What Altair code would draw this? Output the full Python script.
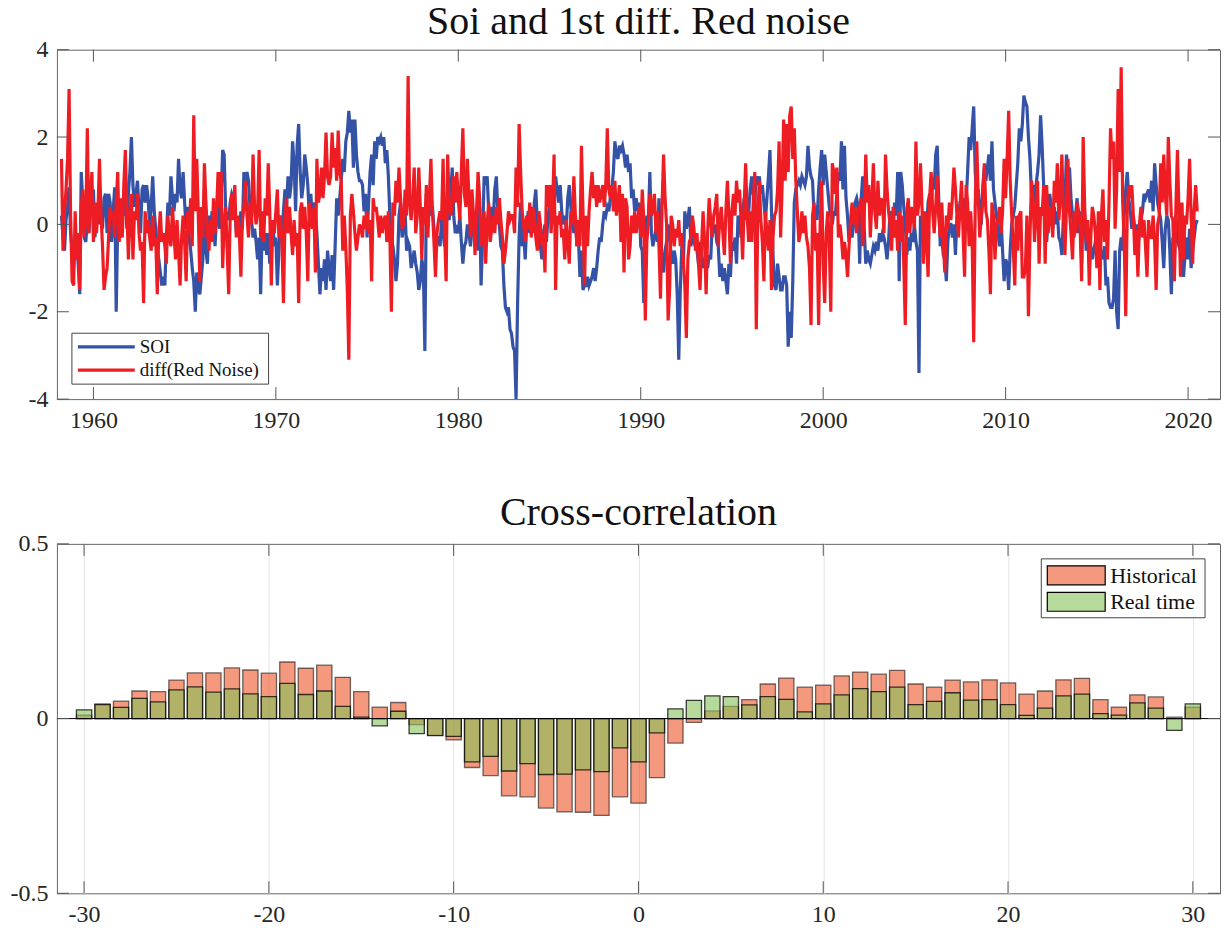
import altair as alt
import pandas as pd

FONT = "Liberation Serif"
START_YEAR = 1958
START_MONTH = 4  # first monthly sample: April 1958

# ---------------- SOI (monthly) ----------------
soi = [
    0.2, -0.3, -0.6, 0.1, 0.4, 0.85, -0.2, -0.6, -1.0,                 # 1958 Apr-Dec
    -0.2, -0.5, -0.9, -1.6, 1.2, 0.5, -0.3, -0.4, 0.1, -0.2, 0.3, 0.4,  # 1959
    0.8, -0.3, 0.2, 0.4, 0.0, 0.3, -0.1, 0.6, 0.7, -0.2, 0.7, 0.5,      # 1960
    -0.4, 0.3, 0.85, -2.0, 0.1, 0.5, -0.3, 0.4, 0.2, 0.6, -0.1, 0.7,    # 1961
    1.2, 2.0, 0.9, 0.4, 0.7, 1.0, 0.3, -0.2, 0.8, 0.9, 0.5, 0.9,        # 1962
    0.6, -0.1, 0.4, 1.1, 0.3, -0.1, -0.6, -0.8, -1.1, -1.4, -1.2, -1.4, # 1963
    -0.3, 0.5, 0.2, 1.1, 0.6, 0.3, 0.7, 0.5, 1.5, 0.8, 0.6, 1.2,        # 1964
    0.5, -0.1, 0.4, -0.3, -0.6, -1.0, -1.3, -2.0, -1.1, -1.5, -1.6, -1.2,  # 1965
    -0.8, 0.8, -0.6, -0.9, 0.2, -0.4, 0.3, 0.1, -0.5, 0.2, 0.4, -0.1,   # 1966
    0.6, 1.7, 1.6, 0.3, 0.2, 0.1, 0.5, 0.7, 0.6, 0.4, -0.2, 0.1,        # 1967
    -0.2, 0.3, -0.1, 1.2, 0.9, 1.2, 1.0, 0.4, 0.1, -0.3, -0.1, -0.4,    # 1968
    -0.8, -0.3, -1.6, -0.1, -0.6, -0.2, -0.7, -0.2, -0.9, -0.4, 0.1, -0.5,  # 1969
    -0.3, -1.4, -0.6, 0.2, -0.4, 0.3, 0.8, 0.4, 1.1, 0.6, 0.9, 1.9,     # 1970
    1.4, 0.3, 1.8, 2.3, 1.2, 0.6, 0.9, 1.6, 1.3, 0.9, 0.2, 0.7,         # 1971
    0.1, 0.5, 0.3, -0.2, -0.9, -1.6, -1.0, -1.3, -0.8, -1.5, -0.6, -1.0,  # 1972
    -1.3, -0.7, -1.5, -0.5, 0.6, 0.2, 0.6, 1.0, 1.5, 1.2, 1.9, 2.1,     # 1973
    2.6, 2.1, 2.4, 1.3, 2.4, 1.6, 1.2, 1.0, 1.0, 0.9, 0.3, 0.7,         # 1974
    -0.3, 0.5, 1.2, 1.6, 0.9, 1.9, 1.5, 2.0, 1.9, 2.0, 1.8, 2.0,        # 1975
    1.4, 1.7, 1.1, 0.2, -0.3, -0.5, -0.8, -1.3, -0.9, 0.2, 0.5, -0.3,   # 1976
    -0.1, 0.3, -0.6, -0.4, -0.5, -1.0, -0.8, -0.6, -0.9, -1.1, -1.5, -1.3,  # 1977
    -0.8, -1.0, -2.9, 0.7, 0.3, 0.5, 0.2, 0.4, -0.1, -0.4, -0.3, -0.3,  # 1978
    -0.5, 0.1, -0.2, -0.5, 0.0, 0.3, 0.1, 0.7, 1.3, 0.2, -0.2, -0.1,    # 1979
    -0.2, 0.2, -0.4, -0.9, -0.5, -0.4, 0.0, -0.2, -0.5, -0.1, 0.1, -0.3,  # 1980
    0.2, -0.6, 0.4, -1.4, -0.3, 1.1, 0.9, 1.1, 0.3, -0.2, 0.4, 0.1,     # 1981
    0.8, 1.1, 0.3, 0.0, -0.5, -0.6, -1.4, -1.9, -2.0, -1.9, -2.4, -2.5, # 1982
    -2.8, -2.9, -4.0, -1.8, -0.3, 0.5, -0.5, -0.2, -0.8, 0.0, 0.3, -0.2,  # 1983
    0.3, -0.2, 0.5, 0.8, 0.0, -0.3, -0.5, -0.8, -0.2, 0.0, -0.4, 0.2,   # 1984
    0.4, 0.9, 0.6, 0.5, 1.1, 0.8, 0.5, 0.9, 0.3, 0.0, 0.2, -0.1,        # 1985
    0.6, 0.9, 0.4, 0.1, -0.2, 0.2, -0.5, -0.3, -1.2, -0.6, -1.5, -1.4,  # 1986
    -1.4, -1.2, -1.4, -1.3, -1.2, -1.0, -1.3, -1.0, -0.6, -0.3, -0.4, 0.0,  # 1987
    0.3, 0.2, 0.4, 0.3, 0.6, 0.8, 1.2, 1.9, 1.6, 1.5, 1.8, 1.7,         # 1988
    1.8, 1.6, 1.3, 1.6, 1.2, 1.4, 0.6, 0.8, 0.3, 0.6, 0.3, 0.5,         # 1989
    -0.5, -0.6, -1.8, -0.2, 0.2, 0.1, 1.2, -0.2, -0.5, -0.3, -0.1, -0.4,  # 1990
    0.6, -0.2, -0.8, -1.1, -0.6, -0.4, 0.0, -0.3, -0.7, -0.9, -0.6, -0.8,  # 1991
    -1.6, -3.1, -1.5, -0.5, -1.0, 0.3, -0.1, 0.1, 0.4, -0.5, -0.2, -0.4,  # 1992
    -0.5, -0.6, -0.9, -0.4, -0.8, -1.0, -0.8, -0.6, -1.0, -0.7, -0.8, 0.0,  # 1993
    -0.2, 0.0, -0.4, -0.5, -1.2, -0.9, -1.3, -1.0, -1.3, -1.6, -0.9, -1.2,  # 1994
    -0.4, -0.6, -0.3, -0.9, 0.2, 0.1, -0.3, 0.2, 0.6, 0.1, 0.4, 0.3,    # 1995
    0.8, 1.1, 0.7, 0.5, 1.1, 0.9, 1.1, 0.7, 0.9, 0.5, 0.1, 0.6,         # 1996
    1.1, 1.7, 0.3, -0.7, -1.4, -1.5, -0.9, -1.2, -1.5, -1.5, -1.2, -1.2,  # 1997
    -1.4, -2.8, -2.0, -2.6, -1.3, 0.5, 0.8, 0.9, 1.0, 0.9, 1.1, 1.0,    # 1998
    0.9, 1.1, 1.8, 1.3, 1.1, 1.0, 0.2, 0.3, 0.1, 0.8, 1.3, 1.7,         # 1999
    0.9, 1.6, 1.2, 0.8, 0.4, 0.2, 0.0, 0.3, 0.2, 0.7, 1.2, 1.0,         # 2000
    1.9, 0.8, 1.8, 0.6, 0.2, -0.4, 0.0, -0.3, 0.0, 0.5, 0.6, 0.4,       # 2001
    -0.9, 0.6, 1.1, -0.1, -0.9, -0.6, -0.8, -0.9, -0.7, -0.5, -0.6, -0.4,  # 2002
    -0.6, -0.2, -0.4, -0.2, -0.3, -0.5, -0.8, -0.4, 0.3, 0.2, -0.1, 0.5,  # 2003
    0.2, 1.2, -1.3, 1.2, 0.9, 0.4, 0.0, -0.7, -0.3, -0.6, -0.2, -0.4,   # 2004
    0.0, -0.4, -0.6, -3.4, 0.2, 0.0, -0.4, 0.1, -0.2, 0.5, 0.7, 0.4,    # 2005
    1.0, 0.8, 1.6, 1.8, 0.6, -0.5, -0.3, -0.7, -0.8, -1.3, -0.4, 0.0,   # 2006
    0.0, -0.3, 0.0, -0.7, 0.2, 0.1, 0.5, 0.5, 0.2, 0.6, 0.5, 1.2,       # 2007
    2.0, 1.7, 2.2, 2.7, 1.2, 0.7, 0.8, 0.3, 0.0, 0.9, 1.3, 1.0,         # 2008
    1.3, 1.6, 1.0, 1.9, 0.8, 0.5, 0.2, -0.2, -0.5, 0.1, -0.6, -1.3,     # 2009
    -0.8, -0.9, -1.5, -0.6, 0.0, 0.2, 0.4, 0.9, 1.4, 2.2, 1.9, 2.3,     # 2010
    2.95, 2.8, 2.7, 2.0, 1.5, 0.7, 0.9, 0.5, 0.9, 1.2, 1.6, 2.5,        # 2011
    1.8, 0.9, 0.2, -0.4, 0.1, 0.7, 0.4, -0.1, 0.4, 0.0, 0.3, -0.3,      # 2012
    -0.4, -0.7, 0.2, 0.5, 1.6, 1.2, 1.3, 0.6, 0.2, -0.3, 0.2, 0.6,      # 2013
    -0.2, 0.3, -0.9, 0.7, 0.2, -0.6, -0.3, -0.9, -0.5, -0.8, -0.6, -0.4,  # 2014
    -0.5, -0.2, -0.9, -0.6, -0.8, -0.5, -1.4, -1.2, -1.8, -1.9, -1.9, -1.7,  # 2015
    -0.6, -2.0, -2.4, -0.6, -0.3, -0.6, 0.2, 0.8, 1.2, 0.6, 0.3, -0.1,  # 2016
    0.2, -0.1, 0.0, -0.5, -0.2, 0.1, 0.3, 0.7, 0.6, 0.7, 0.8, 0.5,      # 2017
    1.0, 0.3, 1.4, 0.9, 0.5, 0.3, 0.1, -0.4, -1.0, -0.1, 0.2, 0.1,      # 2018
    -0.6, -1.6, -0.3, -0.8, 0.2, -0.3, -0.5, -0.6, -0.8, -1.2, -0.7, -0.3,  # 2019
    -0.8, -0.1, -1.0, -0.6, -0.3, 0.0, 0.1,                             # 2020 Jan-Jul
]

# ---------------- diff(Red Noise) (monthly) ----------------
red_noise_diff = [
    1.5, -0.6, 0.3, 0.8, 1.5, 3.1, 0.2, -1.3, -1.4,                     # 1958 Apr-Dec
    0.3, -0.8, -0.2, -1.5, 0.4, 0.8, -0.3, 0.1, 2.2, -0.2, 0.6, 1.2,    # 1959
    -0.4, 0.5, -0.2, 0.3, 1.5, 0.2, -0.5, -1.5, -1.2, -1.0, -0.3, 0.4,  # 1960
    0.1, 0.3, -0.3, 0.5, 1.2, -0.4, 0.6, -0.3, 0.9, 1.7, 0.4, -0.8,     # 1961
    0.2, 0.7, -0.8, 0.3, 0.1, 0.7, -0.2, -0.6, -0.4, -1.8, 0.3, -0.2,   # 1962
    0.1, -0.3, -0.6, 0.2, -0.5, -0.3, -1.6, -0.2, 0.3, -0.4, -0.2, -0.5,  # 1963
    -0.9, 0.2, -0.3, -0.5, 0.4, -0.2, -0.8, 0.1, -0.6, -1.4, -0.3, 0.2,  # 1964
    -0.4, -1.3, 0.3, -0.2, 0.6, -0.5, 2.5, 0.3, 1.5, 0.2, -1.3, 0.4,    # 1965
    -0.3, 1.4, 0.5, -0.2, -0.6, 0.1, -0.4, 0.6, -0.2, 0.3, 1.2, 0.4,    # 1966
    1.2, -1.0, 0.0, 0.4, -0.6, -1.6, 0.3, 0.7, 0.1, 0.9, -0.3, 0.2,     # 1967
    -0.2, -1.2, 0.1, 0.4, 1.0, 0.2, -0.3, 0.5, 0.0, 1.6, 0.4, 0.0,      # 1968
    0.3, 1.7, -0.3, 0.3, -0.4, 0.6, 0.2, 1.4, 0.3, -1.4, 0.1, -0.2,     # 1969
    0.3, 0.8, -0.3, 0.2, -0.4, -1.8, 0.1, 0.6, -0.2, 0.4, -0.2, -0.7,   # 1970
    0.1, -0.5, -0.2, -1.8, 0.3, 0.5, -0.1, 0.4, -0.2, -1.3, 0.5, 0.2,   # 1971
    -0.1, 0.4, -1.1, 1.5, 0.5, 0.7, 1.3, 0.6, 1.1, 2.1, 1.1, 0.9,       # 1972
    1.1, 2.1, 1.3, 1.75, 1.0, 2.15, 1.2, 1.0, -0.6, 0.2, -0.5, -1.5,    # 1973
    -3.1, 0.2, 0.7, 0.3, -0.2, -0.6, -0.3, 0.0, -0.1, -0.3, 0.2, -0.1,  # 1974
    0.3, -0.2, 0.1, -1.3, 0.6, 0.3, 0.4, 0.1, -0.3, 0.2, -0.2, 0.1,     # 1975
    0.2, -0.4, 0.3, -0.3, -2.0, 0.5, 0.2, 1.0, 0.5, 1.3, 0.6, -0.1,     # 1976
    0.0, 0.8, 0.2, 3.4, 0.5, 0.1, 0.6, 1.3, -0.2, 0.2, 1.3, 0.4,        # 1977
    -0.8, 0.4, 0.0, 0.9, -0.3, 0.6, 1.5, 0.3, -0.4, -1.2, -0.2, 0.1,    # 1978
    0.3, 0.1, 1.5, -0.2, -1.3, 1.6, 0.5, 0.2, 0.5, 1.1, 0.5, 1.2,       # 1979
    0.6, 0.1, 1.2, 2.2, 0.7, 0.4, 1.5, 0.6, -0.3, 0.8, 0.2, -0.7,       # 1980
    0.3, 1.2, 0.6, -0.5, -0.2, 0.3, -0.9, 0.0, 0.5, -0.4, -0.1, 0.2,    # 1981
    -0.2, 0.4, 0.0, 0.6, 0.1, -0.3, -0.9, -0.6, -0.2, 0.3, 0.1, 0.2,    # 1982
    0.2, -0.2, 1.3, 0.4, 2.3, 1.2, 0.3, 0.0, -0.4, 0.2, -0.1, 0.5,      # 1983
    -0.3, 0.4, 0.2, -0.3, -0.6, 0.3, 0.0, -0.5, -0.2, -1.1, 0.9, 0.4,   # 1984
    0.9, -0.2, 0.4, 1.6, -1.5, 0.2, 0.0, 0.3, -0.3, -0.1, -0.8, 0.1,    # 1985
    -0.4, -0.9, 0.3, 0.0, 1.1, 0.2, -0.5, 0.1, -0.5, 1.8, 0.3, -1.4,    # 1986
    0.2, -0.5, 0.3, 0.8, 1.2, 0.6, 0.9, 0.4, 0.9, 0.5, 0.7, 0.9,        # 1987
    0.4, 0.9, 2.2, 0.8, 0.6, 0.9, 0.3, 1.0, 0.2, 0.5, 0.9, -0.4,        # 1988
    0.7, -1.1, 0.6, 0.4, -0.8, -0.5, 0.2, -0.2, 0.3, -0.2, 0.1, 0.4,    # 1989
    -0.3, 0.8, 0.1, -2.2, -0.4, 0.0, 0.7, 0.2, 0.4, 0.7, -0.2, 0.3,     # 1990
    -0.5, -1.7, 0.4, 1.6, 0.6, 0.0, -2.2, -1.5, 0.2, 0.0, -0.5, -0.1,   # 1991
    -0.3, 0.1, -0.5, -0.2, -0.8, -1.4, -2.6, -0.8, -0.4, -0.3, 0.2, -0.1,  # 1992
    -0.6, -0.2, -0.9, -1.5, -0.5, 0.3, -0.4, -1.6, -0.2, 0.6, 0.1, -0.3,  # 1993
    0.2, 0.4, 0.7, -0.5, 0.1, 0.4, -0.2, -0.7, 0.3, 1.0, 0.2, -0.9,     # 1994
    0.3, 0.7, 0.2, 1.0, 0.5, 0.8, 0.1, -0.8, 0.4, 1.4, 0.2, -0.4,       # 1995
    0.3, -0.4, 0.5, 1.2, -2.4, 0.2, 1.0, 0.1, -0.4, -1.3, 0.3, -0.2,    # 1996
    -0.6, 0.1, -1.5, -0.3, 0.2, 0.3, 0.8, 1.9, -0.3, 0.9, 2.4, 1.0,     # 1997
    2.3, 1.2, 2.5, 2.7, 1.5, 2.2, 1.0, 0.3, -0.4, -0.2, 0.3, -0.2,      # 1998
    0.2, -0.3, -0.5, -1.0, -2.3, 0.2, 0.5, -0.6, -0.2, -2.3, 0.0, 1.0,  # 1999
    -0.9, -1.8, -0.2, 0.3, -0.4, -2.0, 1.4, 1.2, 0.7, 1.3, -0.3, 0.0,   # 2000
    -0.3, -0.8, -0.4, -0.7, -1.2, -0.5, 0.1, 0.5, 0.0, 0.4, -0.2, 0.3,  # 2001
    0.4, 0.6, -0.5, 0.2, 1.6, 0.5, 0.9, -0.3, 0.5, 1.4, 0.3, -0.1,      # 2002
    1.0, 0.2, 0.6, 0.5, -0.2, 1.6, 0.8, 0.3, 0.0, -0.6, 0.4, -0.3,      # 2003
    0.1, -0.6, 0.3, -0.4, 0.2, -0.9, -2.3, 0.3, 0.6, -0.2, 0.4, 0.2,    # 2004
    -0.1, 1.9, 0.2, 0.5, 1.4, 0.4, -0.9, 0.3, -0.3, -1.2, 0.6, 1.2,     # 2005
    0.3, -0.2, 0.4, 1.1, 0.2, -0.3, 0.5, -0.4, -1.1, 0.2, -0.1, 0.5,    # 2006
    0.1, 0.6, 1.3, 0.8, 0.2, -0.3, 0.4, 1.0, -0.2, -1.2, 0.9, 0.5,      # 2007
    -0.5, 0.3, -0.4, -2.7, 0.4, 1.9, 0.6, -0.3, 0.2, 0.5, 1.4, 0.3,     # 2008
    0.1, -0.6, -1.6, 0.5, 0.2, -0.8, 0.0, 0.1, 0.4, -0.2, 0.3, 1.5,     # 2009
    0.6, 1.5, 2.6, 1.0, 0.2, -0.5, -1.4, 0.2, -0.6, 0.2, 0.3, -1.2,     # 2010
    -1.2, -1.0, 0.2, -2.1, -0.3, 1.0, 0.6, -0.4, 0.3, 1.0, -0.9, 0.4,   # 2011
    0.2, 0.9, -0.9, 0.9, -0.2, 0.4, 0.2, -0.3, 1.0, 0.5, 1.4, 0.1,      # 2012
    0.6, 1.6, 0.2, -0.7, 0.4, 1.5, 0.3, -0.2, -0.8, 0.3, -0.2, 0.5,     # 2013
    0.3, -0.1, -1.3, 2.0, 0.4, -0.4, 0.1, -1.4, -0.3, 0.4, 0.2, -0.2,   # 2014
    -1.0, 0.3, -1.5, 0.2, 0.8, -0.4, 0.1, -0.8, 0.5, 2.2, 1.5, 1.9,     # 2015
    -0.1, 0.8, 3.1, 1.2, 3.6, 0.5, -0.4, -2.1, 0.3, 0.9, 0.6, 0.9,      # 2016
    0.2, -0.7, -0.1, -1.2, 0.0, 0.4, -0.3, 0.1, -0.5, -1.2, 0.1, -0.3,  # 2017
    -0.3, 0.2, -0.4, -1.5, 0.0, 0.2, 1.4, 0.5, 1.6, 0.7, 0.2, 2.0,      # 2018
    1.0, 0.2, 0.1, -1.3, 0.4, 1.7, 0.3, -1.2, 0.5, -0.8, 0.2, 0.0,      # 2019
    0.6, 1.5, 0.2, -0.9, 0.3, 0.9, 0.3,                                 # 2020 Jan-Jul
]

top_series = ["SOI", "diff(Red Noise)"]
top_colors = ["#3452A6", "#EE1D23"]
year_ticks = [1960, 1970, 1980, 1990, 2000, 2010, 2020]
top_y_ticks = [-4, -2, 0, 2, 4]

# ---------------- Cross-correlation ----------------
lags = list(range(-30, 31))
historical = [
    0.010, 0.042, 0.050, 0.079, 0.077, 0.110, 0.131, 0.131, 0.145, 0.139,  # -30..-21
    0.130, 0.162, 0.144, 0.153, 0.118, 0.077, 0.033, 0.046, -0.017, -0.048,  # -20..-11
    -0.061, -0.140, -0.163, -0.221, -0.224, -0.256, -0.267, -0.268, -0.277, -0.224,  # -10..-1
    -0.242,  # 0
    -0.169, -0.070, -0.011, 0.022, 0.035, 0.054, 0.099, 0.116, 0.090, 0.096,  # 1..10
    0.122, 0.133, 0.127, 0.138, 0.099, 0.090, 0.110, 0.105, 0.111, 0.102,    # 11..20
    0.070, 0.079, 0.111, 0.115, 0.054, 0.033, 0.068, 0.062, 0.004, 0.033,    # 21..30
]
real_time = [
    0.025, 0.040, 0.032, 0.058, 0.048, 0.082, 0.091, 0.076, 0.085, 0.071,
    0.063, 0.101, 0.069, 0.079, 0.035, 0.004, -0.021, 0.021, -0.043, -0.049,
    -0.051, -0.124, -0.108, -0.150, -0.129, -0.160, -0.159, -0.147, -0.152, -0.084,
    -0.124,
    -0.041, 0.028, 0.052, 0.065, 0.063, 0.039, 0.063, 0.055, 0.019, 0.042,
    0.068, 0.086, 0.077, 0.090, 0.040, 0.049, 0.074, 0.053, 0.054, 0.040,
    0.009, 0.030, 0.065, 0.070, 0.014, 0.010, 0.045, 0.030, -0.034, 0.042,
]
bar_series = ["Historical", "Real time"]
bar_colors = ["#ED5328", "#84C158"]
lag_ticks = [-30, -20, -10, 0, 10, 20, 30]
cc_y_ticks = [-0.5, 0, 0.5]

# ---------------- layout constants ----------------
W, H = 1165, 350
TICK = 12
LABEL_COLOR = "#262626"
TICK_COLOR = "#555555"
LABEL_EXPR = "'' + datum.value"
TITLE_SIZE = 40


def axis(values, grid=False):
    return alt.Axis(values=values, labelExpr=LABEL_EXPR, ticks=False, domain=False,
                    grid=grid, gridColor="#e3e3e3", gridWidth=1, title=None,
                    labelFont=FONT, labelFontSize=24, labelColor=LABEL_COLOR,
                    labelPadding=9)


# ================= top panel =================
n = min(len(soi), len(red_noise_diff))
t = [START_YEAR + (START_MONTH - 1 + i) / 12 for i in range(n)]
df_top = pd.DataFrame({"t": t, "soi": soi[:n], "red": red_noise_diff[:n]})

xs_top = alt.Scale(domain=[1958, 2021.75], nice=False, zero=False)
ys_top = alt.Scale(domain=[-4, 4], nice=False)
x_axis_top = axis(year_ticks)
y_axis_top = axis(top_y_ticks)

soi_line = alt.Chart(df_top).mark_line(color=top_colors[0], strokeWidth=3.2, clip=True).encode(
    x=alt.X("t:Q", scale=xs_top, axis=x_axis_top),
    y=alt.Y("soi:Q", scale=ys_top, axis=y_axis_top),
)
red_line = alt.Chart(df_top).mark_line(color=top_colors[1], strokeWidth=3.2, clip=True).encode(
    x=alt.X("t:Q", scale=xs_top, axis=x_axis_top),
    y=alt.Y("red:Q", scale=ys_top, axis=y_axis_top),
)

df_xt_top = pd.DataFrame({"tick": year_ticks})
df_yt_top = pd.DataFrame({"tick": top_y_ticks})
top_ticks = [
    alt.Chart(df_xt_top).mark_rule(color=TICK_COLOR, strokeWidth=1).encode(
        x=alt.X("tick:Q", scale=xs_top, axis=x_axis_top), y=alt.value(H), y2=alt.value(H - TICK)),
    alt.Chart(df_xt_top).mark_rule(color=TICK_COLOR, strokeWidth=1).encode(
        x=alt.X("tick:Q", scale=xs_top, axis=x_axis_top), y=alt.value(0), y2=alt.value(TICK)),
    alt.Chart(df_yt_top).mark_rule(color=TICK_COLOR, strokeWidth=1).encode(
        y=alt.Y("tick:Q", scale=ys_top, axis=y_axis_top), x=alt.value(0), x2=alt.value(TICK)),
    alt.Chart(df_yt_top).mark_rule(color=TICK_COLOR, strokeWidth=1).encode(
        y=alt.Y("tick:Q", scale=ys_top, axis=y_axis_top), x=alt.value(W), x2=alt.value(W - TICK)),
]

one = pd.DataFrame({"k": [0]})
top_legend = [
    alt.Chart(one).mark_rect(fill="white", stroke="#444444", strokeWidth=1).encode(
        x=alt.value(15), x2=alt.value(212), y=alt.value(284), y2=alt.value(335)),
]
for i, (name, col) in enumerate(zip(top_series, top_colors)):
    yy = 297.7 + i * 23.3
    dfl = pd.DataFrame({"label": [name]})
    top_legend.append(alt.Chart(dfl).mark_rule(color=col, strokeWidth=3.2).encode(
        x=alt.value(21), x2=alt.value(78), y=alt.value(yy)))
    top_legend.append(alt.Chart(dfl).mark_text(
        align="left", baseline="middle", font=FONT, fontSize=19, color="#111111").encode(
        x=alt.value(83), y=alt.value(yy), text="label:N"))

top = alt.layer(soi_line, red_line, *top_ticks, *top_legend).properties(
    width=W, height=H,
    title=alt.TitleParams("Soi and 1st diff. Red noise", font=FONT, fontSize=TITLE_SIZE,
                          fontWeight="normal", color="#111111", offset=-4),
)

# ================= bottom panel =================
df_bar = pd.DataFrame({"lag": lags, "hist": historical, "rt": real_time})
xs_b = alt.Scale(domain=[-31.2, 31.2], nice=False, zero=False)
ys_b = alt.Scale(domain=[-0.5, 0.5], nice=False)
x_axis_b = axis(lag_ticks, grid=True)
y_axis_b = axis(cc_y_ticks)

hist_bars = alt.Chart(df_bar).mark_bar(
    width=15.3, fill=bar_colors[0], fillOpacity=0.6, stroke="black",
    strokeOpacity=0.55, strokeWidth=1.3).encode(
    x=alt.X("lag:Q", scale=xs_b, axis=x_axis_b),
    y=alt.Y("hist:Q", scale=ys_b, axis=y_axis_b),
)
rt_bars = alt.Chart(df_bar).mark_bar(
    width=15.3, fill=bar_colors[1], fillOpacity=0.6, stroke="black",
    strokeOpacity=0.75, strokeWidth=1.3).encode(
    x=alt.X("lag:Q", scale=xs_b, axis=x_axis_b),
    y=alt.Y("rt:Q", scale=ys_b, axis=y_axis_b),
)
zero_df = pd.DataFrame({"z": [0.0]})
zero_line = alt.Chart(zero_df).mark_rule(color="black", strokeWidth=1).encode(
    y=alt.Y("z:Q", scale=ys_b, axis=y_axis_b),
)

df_xt_b = pd.DataFrame({"tick": lag_ticks})
df_yt_b = pd.DataFrame({"tick": cc_y_ticks})
b_ticks = [
    alt.Chart(df_xt_b).mark_rule(color=TICK_COLOR, strokeWidth=1).encode(
        x=alt.X("tick:Q", scale=xs_b, axis=x_axis_b), y=alt.value(H), y2=alt.value(H - TICK)),
    alt.Chart(df_xt_b).mark_rule(color=TICK_COLOR, strokeWidth=1).encode(
        x=alt.X("tick:Q", scale=xs_b, axis=x_axis_b), y=alt.value(0), y2=alt.value(TICK)),
    alt.Chart(df_yt_b).mark_rule(color=TICK_COLOR, strokeWidth=1).encode(
        y=alt.Y("tick:Q", scale=ys_b, axis=y_axis_b), x=alt.value(0), x2=alt.value(TICK)),
    alt.Chart(df_yt_b).mark_rule(color=TICK_COLOR, strokeWidth=1).encode(
        y=alt.Y("tick:Q", scale=ys_b, axis=y_axis_b), x=alt.value(W), x2=alt.value(W - TICK)),
]

b_legend = [
    alt.Chart(one).mark_rect(fill="white", stroke="#444444", strokeWidth=1).encode(
        x=alt.value(986), x2=alt.value(1150), y=alt.value(15), y2=alt.value(74)),
]
for i, (name, col) in enumerate(zip(bar_series, bar_colors)):
    y0 = 22 + i * 26.5
    dfl = pd.DataFrame({"label": [name]})
    b_legend.append(alt.Chart(dfl).mark_rect(
        fill=col, fillOpacity=0.6, stroke="black", strokeWidth=1.2).encode(
        x=alt.value(992), x2=alt.value(1050), y=alt.value(y0), y2=alt.value(y0 + 19)))
    b_legend.append(alt.Chart(dfl).mark_text(
        align="left", baseline="middle", font=FONT, fontSize=22, color="#111111").encode(
        x=alt.value(1055), y=alt.value(y0 + 10), text="label:N"))

bottom = alt.layer(hist_bars, rt_bars, zero_line, *b_ticks, *b_legend).properties(
    width=W, height=H,
    title=alt.TitleParams("Cross-correlation", font=FONT, fontSize=TITLE_SIZE,
                          fontWeight="normal", color="#111111", offset=-1),
)

chart = alt.vconcat(top, bottom, spacing=59).properties(
    padding={"left": 1, "top": -8, "right": 0, "bottom": 0}
).configure_view(stroke="#666666", strokeWidth=1)

chart.save("out.html", embed_options={"renderer": "svg", "actions": False})
